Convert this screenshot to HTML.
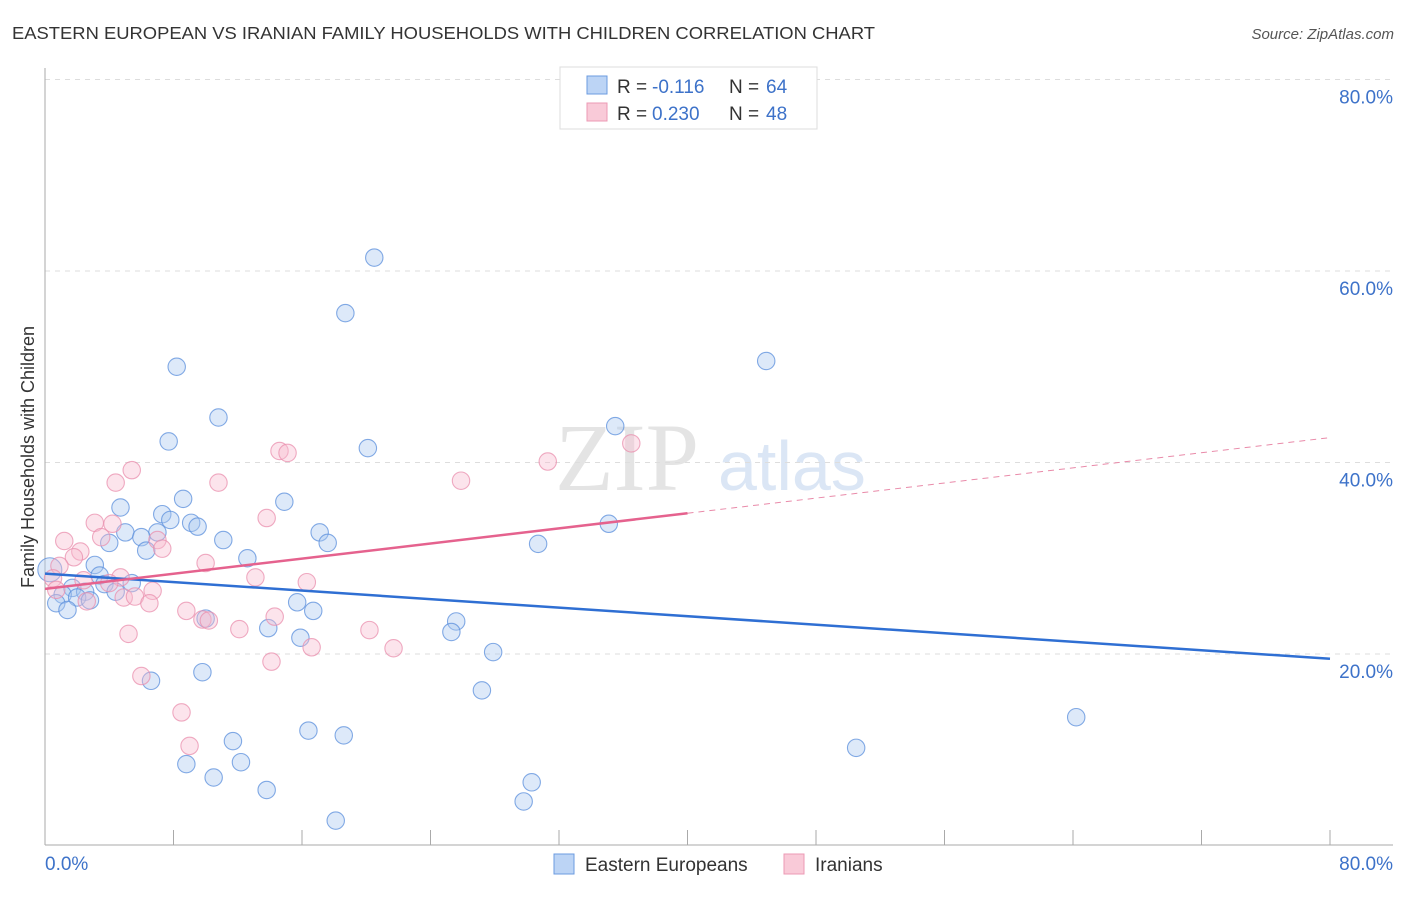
<!DOCTYPE html>
<html><head><meta charset="utf-8"><style>
body{margin:0;background:#fff;font-family:"Liberation Sans",sans-serif}
</style></head><body>
<svg id="c" width="1406" height="892" xmlns="http://www.w3.org/2000/svg">
<text x="12" y="39" font-size="17.5" fill="#333" textLength="863" lengthAdjust="spacingAndGlyphs">EASTERN EUROPEAN VS IRANIAN FAMILY HOUSEHOLDS WITH CHILDREN CORRELATION CHART</text>
<text x="1394" y="39" font-size="15" fill="#555" text-anchor="end" font-style="italic">Source: ZipAtlas.com</text>
<text x="555" y="490" font-size="96" fill="#e4e4e4" font-family="Liberation Serif">ZIP</text>
<text x="718" y="490" font-size="70" fill="#dbe6f5">atlas</text>
<g id="grid"></g><g id="axes"></g><g id="pts"></g><g id="lines"></g>
<text transform="translate(34,457) rotate(-90)" font-size="18" fill="#333" text-anchor="middle">Family Households with Children</text>
<text x="45" y="870" font-size="19" fill="#3d72c9">0.0%</text>
<text x="1393" y="870" font-size="19" fill="#3d72c9" text-anchor="end">80.0%</text>
<g>
<rect x="560" y="67" width="257" height="62" fill="#fff" stroke="#ddd"/>
<rect x="587" y="76" width="20" height="18" fill="#bcd4f5" stroke="#6b9be0"/>
<rect x="587" y="103" width="20" height="18" fill="#f9cad8" stroke="#ec9ab4"/>
<text x="617" y="93" font-size="19" fill="#333">R =</text>
<text x="652" y="93" font-size="19" fill="#3d72c9">-0.116</text>
<text x="729" y="93" font-size="19" fill="#333">N =</text>
<text x="766" y="93" font-size="19" fill="#3d72c9">64</text>
<text x="617" y="120" font-size="19" fill="#333">R =</text>
<text x="652" y="120" font-size="19" fill="#3d72c9">0.230</text>
<text x="729" y="120" font-size="19" fill="#333">N =</text>
<text x="766" y="120" font-size="19" fill="#3d72c9">48</text>
</g>
<g>
<rect x="554" y="854" width="20" height="20" fill="#bcd4f5" stroke="#6b9be0"/>
<text x="585" y="871" font-size="19" fill="#333">Eastern Europeans</text>
<rect x="784" y="854" width="20" height="20" fill="#f9cad8" stroke="#ec9ab4"/>
<text x="815" y="871" font-size="19" fill="#333">Iranians</text>
</g>
</svg>
<script>
const yTicks=[20,40,60,80];
const blueX=[20.5,18.7,8.2,44.9,10.8,35.5,7.7,20.1,8.6,14.9,4.7,7.3,7.8,9.1,9.5,35.1,5.0,7.0,17.1,6.0,11.1,4.0,17.6,30.7,6.3,12.6,3.1,0.3,3.4,5.4,3.7,1.7,2.5,4.4,1.1,2.0,2.8,0.7,1.4,15.7,16.7,10.0,25.6,13.9,25.3,15.9,27.9,9.8,6.6,27.2,64.2,16.4,18.6,11.7,50.5,8.8,12.2,10.5,30.3,13.8,29.8,18.1];
const blueY=[61.4,55.6,50.0,50.6,44.7,43.8,42.2,41.5,36.2,35.9,35.3,34.6,34.0,33.7,33.3,33.6,32.7,32.7,32.7,32.2,31.9,31.6,31.6,31.5,30.8,30.0,29.3,28.8,28.2,27.4,27.3,26.9,26.5,26.5,26.2,25.9,25.6,25.3,24.6,25.4,24.5,23.7,23.4,22.7,22.3,21.7,20.2,18.1,17.2,16.2,13.4,12.0,11.5,10.9,10.2,8.5,8.7,7.1,6.6,5.8,4.6,2.6];
const pinkX=[36.5,14.6,15.1,31.3,5.4,25.9,10.8,4.4,13.8,3.1,4.2,1.2,3.5,7.0,7.3,2.2,1.8,10.0,0.9,0.5,2.4,4.7,13.1,16.3,4.0,0.7,6.7,4.9,5.6,6.5,2.6,8.8,14.3,9.8,10.2,12.1,20.2,5.2,16.6,21.7,14.1,6.0,8.5,9.0];
const pinkY=[42.0,41.2,41.0,40.1,39.2,38.1,37.9,37.9,34.2,33.7,33.6,31.8,32.2,31.9,31.0,30.7,30.1,29.5,29.2,27.9,27.7,28.0,28.0,27.5,27.4,26.7,26.6,25.9,26.0,25.3,25.5,24.5,23.9,23.6,23.5,22.6,22.5,22.1,20.7,20.6,19.2,17.7,13.9,10.4];
const blueTrend=[28.4,19.5];
const pinkTrend=[26.8,42.6];
const pinkSolidEnd=40;
const X=v=>45+v/80*1285, Y=v=>845.5-v/20*191.5;
const NS='http://www.w3.org/2000/svg';
function mk(p,t,a){const e=document.createElementNS(NS,t);for(const k in a)e.setAttribute(k,a[k]);document.getElementById(p).appendChild(e);return e;}
yTicks.forEach(t=>{
 const l=mk('grid','line',{x1:45,x2:1393,y1:Y(t),y2:Y(t),stroke:'#ddd','stroke-dasharray':'5,5'});
 
 
 const tx=mk('grid','text',{x:1393,y:Y(t)+24,'font-size':19,fill:'#3d72c9','text-anchor':'end'});
 tx.textContent=t.toFixed(1)+'%';
 
 
});
const ya=mk('axes','line',{x1:45,x2:45,y1:68,y2:845,stroke:'#aaa'});


const xa=mk('axes','line',{x1:45,x2:1393,y1:845,y2:845,stroke:'#aaa'});


for(let i=1;i<=10;i++){const t=mk('axes','line',{x1:X(i*8),x2:X(i*8),y1:830,y2:845,stroke:'#aaa'});
 
 }
function dots(xs,ys,f,s,n){xs.forEach((x,i)=>{const c=mk('pts','circle',{cx:X(x),cy:Y(ys[i]),r:(x<0.5?12:8.7),fill:f,'fill-opacity':0.4,stroke:s,'stroke-opacity':0.75,'stroke-width':1.1});
 
 });}
dots(blueX,blueY,'#aac8f0','#5b8fdc','eastern-european-point');
dots(pinkX,pinkY,'#f7bcd0','#ea8fae','iranian-point');
const bl=mk('lines','line',{x1:X(0),y1:Y(blueTrend[0]),x2:X(80),y2:Y(blueTrend[1]),stroke:'#2f6fd3','stroke-width':2.5});


const pm=pinkTrend[0]+(pinkTrend[1]-pinkTrend[0])*pinkSolidEnd/80;
const pl=mk('lines','line',{x1:X(0),y1:Y(pinkTrend[0]),x2:X(pinkSolidEnd),y2:Y(pm),stroke:'#e5628e','stroke-width':2.5});


const pd=mk('lines','line',{x1:X(pinkSolidEnd),y1:Y(pm),x2:X(80),y2:Y(pinkTrend[1]),stroke:'#e98aa9','stroke-width':1,'stroke-dasharray':'6,5'});


</script>
</body></html>
